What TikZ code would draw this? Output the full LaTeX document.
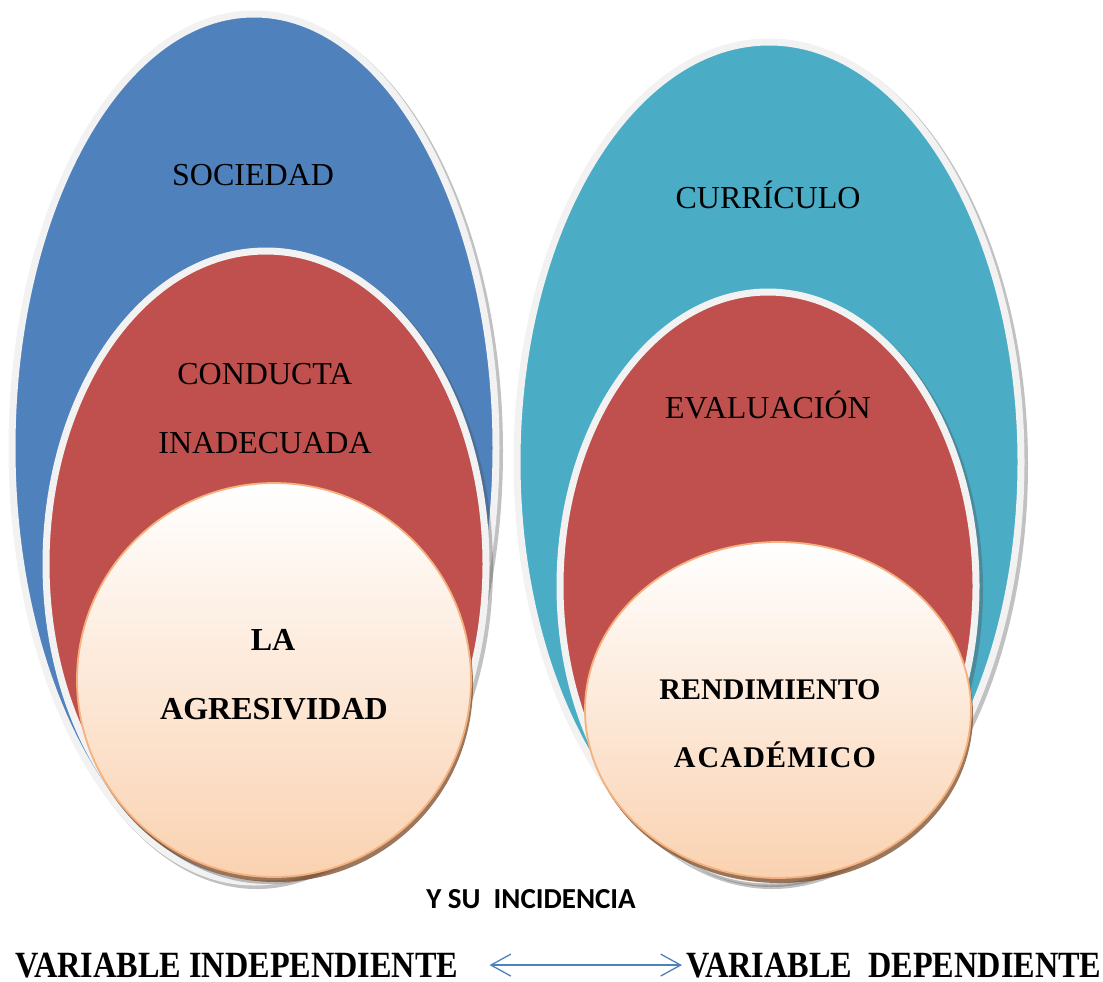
\documentclass[tikz,border=0pt]{standalone}
\usepackage{fontspec}
\setmainfont{Liberation Serif}
\newfontfamily\condserif[FakeStretch=0.872]{Liberation Serif}
\newfontfamily\calib{Carlito}
\usetikzlibrary{arrows.meta}
\definecolor{bluefill}{HTML}{4F81BD}
\definecolor{redfill}{HTML}{C0504D}
\definecolor{cyanfill}{HTML}{4BACC6}
\definecolor{rimgrey}{HTML}{F2F2F2}
\definecolor{peach}{HTML}{FAD2B1}
\definecolor{orangeline}{HTML}{F5B27E}
\definecolor{arrowblue}{HTML}{4F81BD}
\definecolor{shadowbrown}{HTML}{7A4A28}
\begin{document}
\begin{tikzpicture}[x=1pt,y=-1pt,
  rimmed/.style={draw=rimgrey, line width=7pt},
  softshadow/.style={fill=black!70, opacity=0.35},
  circshadow/.style={fill=shadowbrown, opacity=0.75},
  innercirc/.style={draw=orangeline, line width=1.8pt},
  plainlabel/.style={anchor=base, inner sep=0pt, font=\fontsize{32}{38}\selectfont},
  boldlabel/.style={anchor=base, inner sep=0pt, font=\fontsize{30}{36}\selectfont\bfseries},
  bigboldlabel/.style={anchor=base, inner sep=0pt, font=\fontsize{32}{38}\selectfont\bfseries},
  varlabel/.style={anchor=base, inner sep=0pt, font=\fontsize{37}{42}\selectfont\condserif\bfseries},
  linklabel/.style={anchor=base, inner sep=0pt, font=\fontsize{29}{34}\selectfont\calib\bfseries},
  arr/.style={draw=arrowblue, line width=1.3pt, {Straight Barb[length=20pt,width=22pt]}-{Straight Barb[length=20pt,width=22pt]}}
]
\useasboundingbox (0,0) rectangle (1103,982);

% ---------- left group ----------
\coordinate (lo) at (254,448);
\coordinate (lm) at (266,564);
\coordinate (li) at (274,680);
\fill[softshadow] ([shift={(3,3)}]lo) ellipse [x radius=246, y radius=438];
\filldraw[fill=bluefill, rimmed] (lo) ellipse [x radius=242, y radius=434];
\fill[softshadow] ([shift={(3,3)}]lm) ellipse [x radius=224, y radius=317];
\filldraw[fill=redfill, rimmed] (lm) ellipse [x radius=220, y radius=313];
\fill[circshadow] ([shift={(2,5)}]li) ellipse [x radius=197, y radius=197];
\shade[top color=white, bottom color=peach] (li) ellipse [x radius=197, y radius=197];
\draw[innercirc] (li) ellipse [x radius=197, y radius=197];

% ---------- right group ----------
\coordinate (ro) at (769,462);
\coordinate (rm) at (768,586);
\coordinate (ri) at (778,710);
\fill[softshadow] ([shift={(3,3)}]ro) ellipse [x radius=256, y radius=424];
\filldraw[fill=cyanfill, rimmed] (ro) ellipse [x radius=252, y radius=420];
\fill[softshadow] ([shift={(3,3)}]rm) ellipse [x radius=212, y radius=298];
\filldraw[fill=redfill, rimmed] (rm) ellipse [x radius=208, y radius=294];
\fill[circshadow] ([shift={(2,5)}]ri) ellipse [x radius=193, y radius=168];
\shade[top color=white, bottom color=peach] (ri) ellipse [x radius=193, y radius=168];
\draw[innercirc] (ri) ellipse [x radius=193, y radius=168];

% ---------- labels ----------
\node[plainlabel] (soc) at (253,185) {SOCIEDAD};
\node[plainlabel] (con1) at (265,384) {CONDUCTA};
\node[plainlabel] (con2) at (265,453) {INADECUADA};
\node[bigboldlabel] (agr1) at (273,650) {LA};
\node[bigboldlabel] (agr2) at (274,719) {AGRESIVIDAD};

\node[plainlabel] (cur) at (768,208) {CURRÍCULO};
\node[plainlabel] (eva) at (768,418) {EVALUACIÓN};
\node[boldlabel] (ren1) at (770,699) {RENDIMIENTO};
\node[boldlabel] (ren2) at (775,767) {\addfontfeature{LetterSpace=4}A\kern2pt\relax CADÉMICO};

\node[linklabel] (inc) at (531,908) {Y SU\ \ INCIDENCIA};

\node[varlabel, anchor=base west] (vi) at (15,977) {VARIABLE INDEPENDIENTE};
\node[varlabel, anchor=base west] (vd) at (686,977) {VARIABLE\ \ DEPENDIENTE};

\draw[arr, shorten <=31pt, shorten >=4pt] (vi) -- (vd);
\end{tikzpicture}
\end{document}
